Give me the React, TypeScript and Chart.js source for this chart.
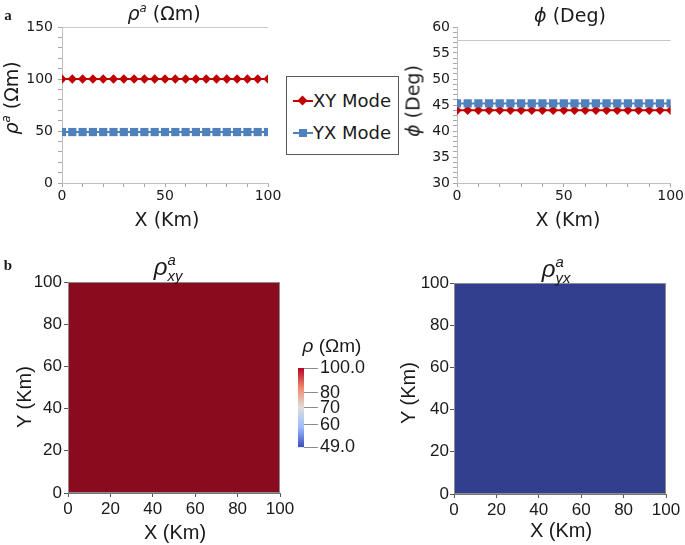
import React, { useEffect, useRef } from 'react';
import { Chart, registerables } from 'chart.js';

Chart.register(...registerables);

// ---------- data ----------
const xKm = [0, 5, 10, 15, 20, 25, 30, 35, 40, 45, 50, 55, 60, 65, 70, 75, 80, 85, 90, 95, 100];
const rhoXY = [100, 100, 100, 100, 100, 100, 100, 100, 100, 100, 100, 100, 100, 100, 100, 100, 100, 100, 100, 100, 100];
const rhoYX = [49, 49, 49, 49, 49, 49, 49, 49, 49, 49, 49, 49, 49, 49, 49, 49, 49, 49, 49, 49, 49];
const phiXY = [44, 44, 44, 44, 44, 44, 44, 44, 44, 44, 44, 44, 44, 44, 44, 44, 44, 44, 44, 44, 44];
const phiYX = [45.3, 45.3, 45.3, 45.3, 45.3, 45.3, 45.3, 45.3, 45.3, 45.3, 45.3, 45.3, 45.3, 45.3, 45.3, 45.3, 45.3, 45.3, 45.3, 45.3, 45.3];

const xTickLabels = [0, 50, 100];
const rhoTickLabels = [0, 50, 100, 150];
const phiTickLabels = [30, 35, 40, 45, 50, 55, 60];
const phiRefLine = [57.5];

const mapExtentX = [0, 100];
const mapExtentY = [0, 100];
const mapTicks = [0, 20, 40, 60, 80, 100];
const xyMapValue = 100;
const yxMapValue = 49;

const cbTicks = [49, 60, 70, 80, 100];
const cbMin = 49;
const cbMax = 100;

// ---------- styles ----------
const TOP_FONT = "'DejaVu Sans', sans-serif";
const BOT_FONT = "'Liberation Sans', Arial, sans-serif";
const INK = '#1a1a1a';
const RED = '#C00000';
const BLUE = '#4F81BD';
const MAP_RED = '#8A0A1E';
const MAP_BLUE = '#323F8F';

function mapColor(v: number) {
  return v >= 70 ? MAP_RED : MAP_BLUE;
}

function ChartBox({ left, top, width, height, make }: any) {
  const ref = useRef<HTMLCanvasElement>(null);
  useEffect(() => {
    const chart = new Chart(ref.current as HTMLCanvasElement, make());
    return () => chart.destroy();
  }, []);
  return (
    <canvas
      ref={ref}
      width={width}
      height={height}
      style={{ position: 'absolute', left, top, width, height, display: 'block' }}
    />
  );
}

const hLinePlugin = (values: number[], color: string) => ({
  id: 'hline',
  beforeDatasetsDraw(chart: any) {
    const { ctx, chartArea, scales } = chart;
    ctx.save();
    ctx.strokeStyle = color;
    ctx.lineWidth = 1;
    values.forEach((v) => {
      const y = Math.round(scales.y.getPixelForValue(v)) + 0.5;
      ctx.beginPath();
      ctx.moveTo(chartArea.left, y);
      ctx.lineTo(chartArea.right, y);
      ctx.stroke();
    });
    ctx.restore();
  },
});

const framePlugin = {
  id: 'frame',
  afterDraw(chart: any) {
    const { ctx, chartArea } = chart;
    ctx.save();
    ctx.strokeStyle = '#8c8c8c';
    ctx.lineWidth = 1;
    ctx.strokeRect(chartArea.left + 0.5, chartArea.top + 0.5, chartArea.width - 1, chartArea.height - 1);
    ctx.restore();
  },
};

function profileConfig(opts: any) {
  const { series, yMin, yMax, yStep, yLabels, yAxisW, yPad, padRight, gridTop, extraPlugins } = opts;
  return {
    type: 'line',
    data: {
      datasets: series.map((s: any) => ({
        label: s.label,
        data: xKm.map((x, i) => ({ x, y: s.values[i] })),
        borderColor: s.color,
        backgroundColor: s.color,
        borderWidth: 2,
        pointStyle: s.point,
        pointRadius: s.radius,
        pointBorderWidth: 0,
        pointBackgroundColor: s.color,
        fill: false,
        tension: 0,
      })),
    },
    options: {
      responsive: false,
      animation: false,
      events: [],
      layout: { padding: { top: 27, right: padRight, left: 0, bottom: 0 } },
      plugins: { legend: { display: false }, tooltip: { enabled: false } },
      scales: {
        x: {
          type: 'linear',
          min: 0,
          max: 100,
          afterFit: (s: any) => { s.height = 47; },
          ticks: {
            stepSize: 10,
            autoSkip: false,
            maxRotation: 0,
            padding: 1,
            color: INK,
            font: { family: TOP_FONT, size: 14 },
            callback: (v: any) => (xTickLabels.includes(v) ? String(v) : ''),
          },
          grid: { drawOnChartArea: false, tickLength: 4, color: '#a6a6a6' },
          border: { color: '#bfbfbf' },
        },
        y: {
          type: 'linear',
          min: yMin,
          max: yMax,
          afterFit: (s: any) => { s.width = yAxisW; },
          ticks: {
            stepSize: yStep,
            autoSkip: false,
            padding: yPad,
            color: INK,
            font: { family: TOP_FONT, size: 14 },
            callback: (v: any) => (yLabels.includes(v) ? String(v) : ''),
          },
          grid: {
            drawOnChartArea: true,
            tickLength: 4,
            tickColor: '#a6a6a6',
            color: (ctx: any) => (ctx.tick && ctx.tick.value === gridTop ? '#c8c8c8' : 'rgba(0,0,0,0)'),
          },
          border: { color: '#bfbfbf' },
        },
      },
    },
    plugins: extraPlugins || [],
  } as any;
}

function mapConfig(value: number, padRight: number, padTop: number, xH: number, yW: number, yPad: number) {
  return {
    type: 'line',
    data: {
      datasets: [
        {
          data: [
            { x: mapExtentX[0], y: mapExtentY[1] },
            { x: mapExtentX[1], y: mapExtentY[1] },
          ],
          borderWidth: 0,
          pointRadius: 0,
          backgroundColor: mapColor(value),
          borderColor: mapColor(value),
          fill: { value: mapExtentY[0] },
        },
      ],
    },
    options: {
      responsive: false,
      animation: false,
      events: [],
      layout: { padding: { top: padTop, right: padRight, left: 0, bottom: 0 } },
      plugins: { legend: { display: false }, tooltip: { enabled: false } },
      scales: {
        x: {
          type: 'linear',
          min: mapExtentX[0],
          max: mapExtentX[1],
          afterFit: (s: any) => { s.height = xH; },
          afterBuildTicks: (s: any) => { s.ticks = mapTicks.map((v) => ({ value: v })); },
          ticks: { autoSkip: false, maxRotation: 0, padding: 2, color: INK, font: { family: BOT_FONT, size: 17 } },
          grid: { drawOnChartArea: false, tickLength: 4, color: '#555' },
          border: { color: '#777' },
        },
        y: {
          type: 'linear',
          min: mapExtentY[0],
          max: mapExtentY[1],
          afterFit: (s: any) => { s.width = yW; },
          afterBuildTicks: (s: any) => { s.ticks = mapTicks.map((v) => ({ value: v })); },
          ticks: { autoSkip: false, padding: yPad, color: INK, font: { family: BOT_FONT, size: 17 } },
          grid: { drawOnChartArea: false, tickLength: 4, color: '#555' },
          border: { color: '#777' },
        },
      },
    },
    plugins: [framePlugin],
  } as any;
}

function colorbarConfig() {
  return {
    type: 'bar',
    data: {
      labels: [''],
      datasets: [
        {
          data: [[cbMin, cbMax]],
          borderWidth: 0,
          barPercentage: 1,
          categoryPercentage: 1,
          backgroundColor: (ctx: any) => {
            const a = ctx.chart.chartArea;
            if (!a) return '#dddddd';
            const g = ctx.chart.ctx.createLinearGradient(0, a.top, 0, a.bottom);
            g.addColorStop(0, '#B40426');
            g.addColorStop(0.25, '#F08A6E');
            g.addColorStop(0.5, '#DDDDDD');
            g.addColorStop(0.75, '#9CBCFC');
            g.addColorStop(1, '#3B4CC0');
            return g;
          },
        },
      ],
    },
    options: {
      responsive: false,
      animation: false,
      events: [],
      layout: { padding: { top: 38, right: 0, left: 8, bottom: 11 } },
      plugins: { legend: { display: false }, tooltip: { enabled: false } },
      scales: {
        x: { display: false },
        y: {
          type: 'logarithmic',
          position: 'right',
          min: cbMin,
          max: cbMax,
          afterFit: (s: any) => { s.width = 86; },
          afterBuildTicks: (s: any) => { s.ticks = cbTicks.map((v) => ({ value: v })); },
          ticks: {
            autoSkip: false,
            padding: 2,
            color: INK,
            font: { family: BOT_FONT, size: 18 },
            callback: (v: any) => (v === cbMin || v === cbMax ? Number(v).toFixed(1) : String(v)),
          },
          grid: { drawOnChartArea: false, tickLength: 14, color: '#8c8c8c' },
          border: { display: false },
        },
      },
    },
  } as any;
}

// ---------- text helpers ----------
function T({ x, y, rot, size, font, children, style }: any) {
  return (
    <div
      style={{
        position: 'absolute',
        left: x,
        top: y,
        transform: `translate(-50%, -50%)${rot ? ' rotate(-90deg)' : ''}`,
        fontSize: size,
        fontFamily: font,
        whiteSpace: 'nowrap',
        lineHeight: 1,
        color: INK,
        ...style,
      }}
    >
      {children}
    </div>
  );
}

const supS: any = { fontSize: '0.62em', verticalAlign: '0.65em', lineHeight: 0 };
const subS: any = { fontSize: '0.62em', verticalAlign: '-0.4em', lineHeight: 0 };

const RhoA = () => (
  <span>
    <i>ρ</i>
    <sup style={supS}><i>a</i></sup> (Ωm)
  </span>
);

const RhoMap = ({ sub }: any) => (
  <span>
    <i>ρ</i>
    <sup style={{ ...supS, display: 'inline-block', width: 0 }}><i>a</i></sup>
    <sub style={subS}><i>{sub}</i></sub>
  </span>
);

function Legend() {
  return (
    <div
      style={{
        position: 'absolute',
        left: 286,
        top: 76,
        width: 113,
        height: 79,
        border: '1px solid #595959',
        boxSizing: 'border-box',
        background: '#fff',
      }}
    >
      <div style={{ position: 'absolute', left: 6, top: 23, width: 20, height: 2, background: RED }} />
      <div
        style={{
          position: 'absolute',
          left: 12,
          top: 20,
          width: 7,
          height: 7,
          background: RED,
          transform: 'rotate(45deg)',
        }}
      />
      <div style={{ position: 'absolute', left: 26, top: 24, transform: 'translateY(-50%)', fontFamily: TOP_FONT, fontSize: 18, lineHeight: 1, color: INK, whiteSpace: 'nowrap' }}>
        XY Mode
      </div>
      <div style={{ position: 'absolute', left: 6, top: 55, width: 20, height: 2, background: BLUE }} />
      <div style={{ position: 'absolute', left: 12, top: 52, width: 8, height: 8, background: BLUE }} />
      <div style={{ position: 'absolute', left: 26, top: 56, transform: 'translateY(-50%)', fontFamily: TOP_FONT, fontSize: 18, lineHeight: 1, color: INK, whiteSpace: 'nowrap' }}>
        YX Mode
      </div>
    </div>
  );
}

export default function App() {
  return (
    <div style={{ position: 'absolute', left: 0, top: 0, width: 685, height: 545, background: '#fff', overflow: 'hidden' }}>
      <ChartBox
        left={0}
        top={0}
        width={290}
        height={230}
        make={() =>
          profileConfig({
            series: [
              { label: 'XY Mode', values: rhoXY, color: RED, point: 'rectRot', radius: 4.7 },
              { label: 'YX Mode', values: rhoYX, color: BLUE, point: 'rect', radius: 5.8 },
            ],
            yMin: 0,
            yMax: 150,
            yStep: 10,
            yLabels: rhoTickLabels,
            yAxisW: 62,
            yPad: 5,
            padRight: 22,
            gridTop: 150,
          })
        }
      />
      <ChartBox
        left={395}
        top={0}
        width={290}
        height={230}
        make={() =>
          profileConfig({
            series: [
              { label: 'YX Mode', values: phiYX, color: BLUE, point: 'rect', radius: 5.8 },
              { label: 'XY Mode', values: phiXY, color: RED, point: 'rectRot', radius: 4.7 },
            ],
            yMin: 30,
            yMax: 60,
            yStep: 1,
            yLabels: phiTickLabels,
            yAxisW: 62,
            yPad: 3,
            padRight: 14,
            gridTop: null,
            extraPlugins: [hLinePlugin(phiRefLine, '#c8c8c8')],
          })
        }
      />
      <ChartBox left={0} top={250} width={300} height={295} make={() => mapConfig(xyMapValue, 20, 32, 52, 68, 2)} />
      <ChartBox left={390} top={250} width={295} height={295} make={() => mapConfig(yxMapValue, 19, 33, 51, 64, 1)} />
      <ChartBox left={290} top={330} width={100} height={130} make={colorbarConfig} />

      <Legend />

      {/* panel letters */}
      <T x={8} y={15} size={15} font="'Liberation Serif', serif" style={{ fontWeight: 'bold' }}>a</T>
      <T x={8} y={265} size={15} font="'Liberation Serif', serif" style={{ fontWeight: 'bold' }}>b</T>

      {/* top-left */}
      <T x={164} y={13} size={19} font={TOP_FONT}><RhoA /></T>
      <T x={11} y={98} size={19} font={TOP_FONT} rot><RhoA /></T>
      <T x={167} y={219} size={19} font={TOP_FONT}>X (Km)</T>

      {/* top-right */}
      <T x={570} y={15} size={19} font={TOP_FONT}><i>ϕ</i> (Deg)</T>
      <T x={413} y={101} size={19} font={TOP_FONT} rot><i>ϕ</i> (Deg)</T>
      <T x={568} y={219} size={19} font={TOP_FONT}>X (Km)</T>

      {/* bottom-left */}
      <T x={168} y={267} size={24} font={BOT_FONT}><RhoMap sub="xy" /></T>
      <T x={24} y={397} size={20} font={BOT_FONT} rot>Y (Km)</T>
      <T x={175} y={532} size={20} font={BOT_FONT}>X (Km)</T>

      {/* colorbar title */}
      <T x={332} y={345} size={19} font={BOT_FONT}><i>ρ</i> (Ωm)</T>

      {/* bottom-right */}
      <T x={556} y={269} size={24} font={BOT_FONT}><RhoMap sub="yx" /></T>
      <T x={408} y={393} size={20} font={BOT_FONT} rot>Y (Km)</T>
      <T x={561} y={530} size={20} font={BOT_FONT}>X (Km)</T>
    </div>
  );
}
